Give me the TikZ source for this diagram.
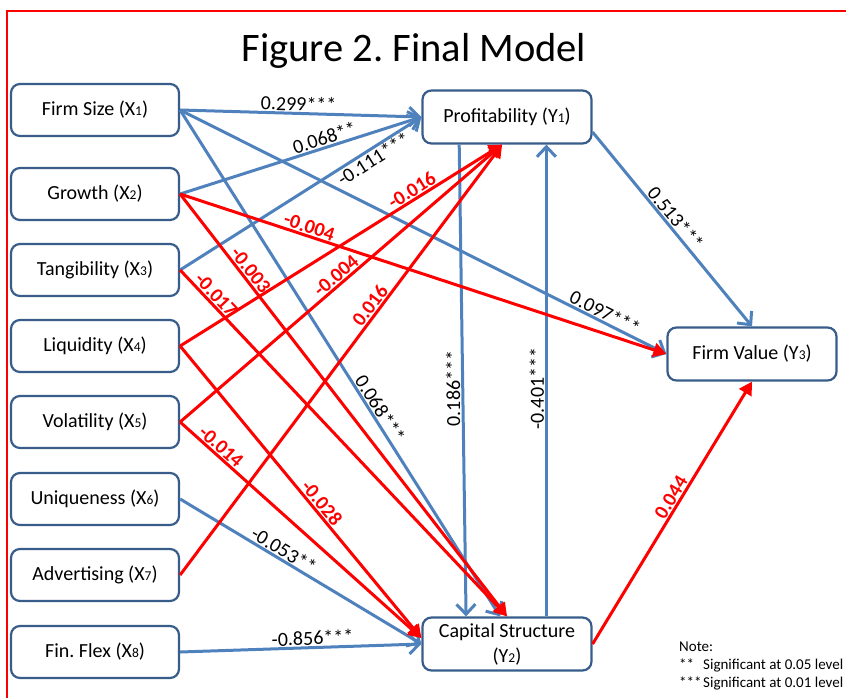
\documentclass[tikz,border=0pt]{standalone}
\usepackage{fontspec}
\setmainfont{Carlito}
\usepackage{tikz}
\usetikzlibrary{arrows.meta}
\definecolor{lineblue}{RGB}{79,129,189}
\definecolor{boxblue}{RGB}{56,93,138}
\definecolor{pathred}{RGB}{255,0,0}

\begin{document}
\begin{tikzpicture}[x=1pt, y=-1pt,
  varbox/.style={rectangle, draw=boxblue, line width=2.2pt, fill=white, rounded corners=9pt, minimum height=\bh, minimum width=\bw, inner sep=2pt, align=center, font=\fontsize{20}{24}\selectfont},
  bluepath/.style={draw=lineblue, line width=3pt, -{Straight Barb[length=10pt,width=19pt]}},
  redpath/.style={draw=pathred, line width=3pt, -{Triangle[length=13pt,width=14pt]}},
  coef/.style={font=\fontsize{20}{24}\selectfont, inner sep=1pt, sloped},
  redcoef/.style={coef, text=pathred, font=\fontsize{20}{24}\selectfont\bfseries},
  vcoef/.style={font=\fontsize{20}{24}\selectfont, inner sep=1pt, rotate=90, anchor=south}]

\newcommand\bw{168pt}
\newcommand\bh{52pt}
\newcommand\idx[1]{{\fontsize{13.5}{13.5}\selectfont #1}}

\useasboundingbox (0,0) rectangle (846,698);
\draw[pathred, line width=2pt] (7,760) -- (7,11) -- (900,11);

\node at (414,62) [anchor=base, font=\fontsize{40.5}{48}\selectfont] (title) {Figure 2.\ Final Model};

\node at (95,110) [varbox] (fsize) {Firm Size (X\idx{1})};
\node at (95,194) [varbox] (growth) {Growth (X\idx{2})};
\node at (95,270) [varbox] (tang) {Tangibility (X\idx{3})};
\node at (95,346) [varbox] (liq) {Liquidity (X\idx{4})};
\node at (95,422) [varbox] (vol) {Volatility (X\idx{5})};
\node at (95,499) [varbox] (uniq) {Uniqueness (X\idx{6})};
\node at (95,575) [varbox] (adv) {Advertising (X\idx{7})};
\node at (95,652) [varbox] (finflex) {Fin.\ Flex (X\idx{8})};

\node at (507,117) [varbox, minimum width=169pt, minimum height=53pt] (prof) {Profitability (Y\idx{1})};
\node at (752,354) [varbox, minimum width=169pt, minimum height=53pt] (fval) {Firm Value (Y\idx{3})};
\node at (507,644) [varbox, minimum width=169pt, minimum height=53pt] (capstr) {Capital Structure\\[1pt](Y\idx{2})};

\node at (679,642) [anchor=north west, inner sep=0pt, align=left, font=\fontsize{15}{18}\selectfont] (note) {Note:\\\makebox[24pt][l]{**}Significant at 0.05 level\\\makebox[24pt][l]{***}Significant at 0.01 level};

\draw[bluepath] (fsize.east) -- (prof.west) node[coef, pos=.49, above] {0.299***};
\draw[bluepath] (growth.east) -- (prof.west) node[coef, pos=.61, above] {0.068**};
\draw[bluepath] (tang.east) -- (prof.west) node[coef, pos=.78, below] {-0.111***};
\draw[bluepath] (fsize.east) -- (fval.west) node[coef, pos=.865, above] {0.097***};
\draw[bluepath] (fsize.east) -- (capstr.104) node[coef, pos=.6, above] {0.068***};
\draw[bluepath] (uniq.east) -- (capstr.west) node[coef, pos=.41, above] {-0.053**};
\draw[bluepath] (finflex.east) -- (capstr.west) node[coef, pos=.55, above] {-0.856***};
\draw[bluepath] (prof.210) -- (capstr.146) node[vcoef, pos=.517] {0.186***};
\draw[bluepath] (capstr.35) -- (prof.-35) node[vcoef, pos=.483] {-0.401***};
\draw[bluepath] (prof.-10) -- (fval.north) node[coef, pos=.474, above] {0.513***};

\draw[redpath] (growth.east) -- (fval.west) node[redcoef, pos=.26, above] {-0.004};
\draw[redpath] (growth.east) -- (capstr.north) node[redcoef, pos=.194, above] {-0.003};
\draw[redpath] (tang.east) -- (capstr.north) node[redcoef, pos=.09, above] {-0.017};
\draw[redpath] (liq.east) -- (prof.260) node[redcoef, pos=.735, above] {-0.016};
\draw[redpath] (vol.east) -- (prof.260) node[redcoef, pos=.503, above] {-0.004};
\draw[redpath] (adv.east) -- (prof.260) node[redcoef, pos=.613, above] {0.016};
\draw[redpath] (liq.east) -- (capstr.176) node[redcoef, pos=.558, above] {-0.028};
\draw[redpath] (vol.east) -- (capstr.176) node[redcoef, pos=.145, above] {-0.014};
\draw[redpath] (capstr.east) -- (fval.south) node[redcoef, pos=.54, above] {0.044};

\end{tikzpicture}
\end{document}
